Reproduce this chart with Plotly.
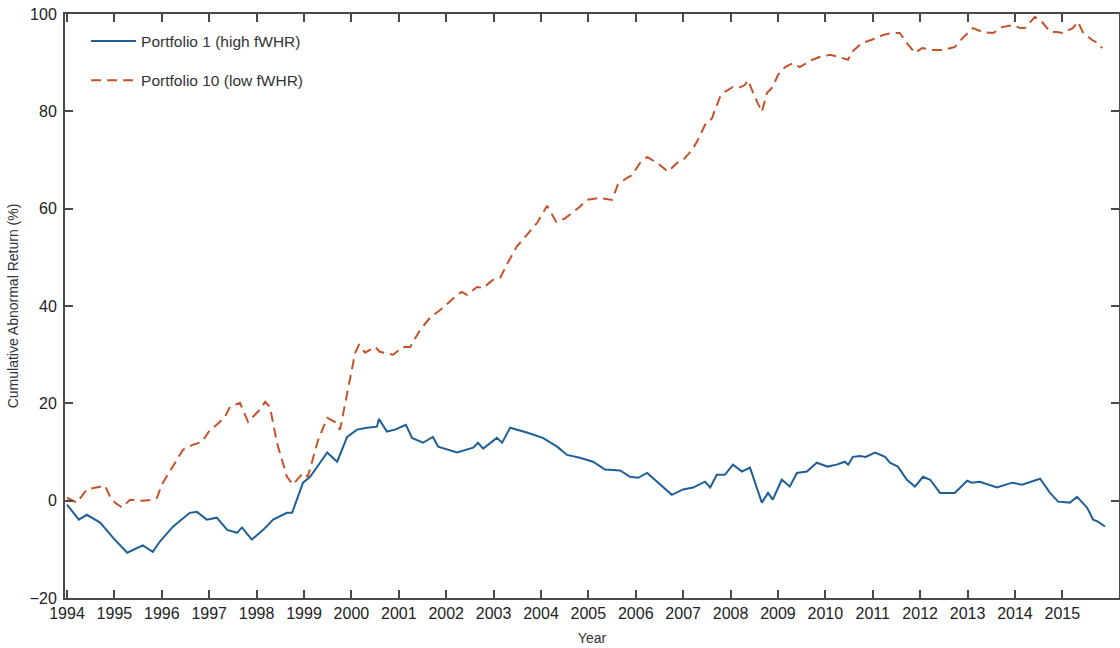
import plotly.graph_objects as go

# Portfolio 1 (high fWHR) - decimal year and cumulative abnormal return (%)
p1_year = [1994.00, 1994.25, 1994.42, 1994.70, 1994.97, 1995.27, 1995.60, 1995.81, 1995.96, 1996.24,
           1996.59, 1996.74, 1996.95, 1997.16, 1997.38, 1997.59, 1997.69, 1997.90, 1998.14, 1998.35,
           1998.64, 1998.75, 1998.85, 1998.98, 1999.13, 1999.49, 1999.70, 1999.91, 2000.12, 2000.33,
           2000.54, 2000.58, 2000.75, 2000.92, 2001.15, 2001.28, 2001.51, 2001.72, 2001.83, 2002.23,
           2002.57, 2002.67, 2002.78, 2003.07, 2003.18, 2003.35, 2003.70, 2004.04, 2004.34, 2004.55,
           2004.82, 2005.10, 2005.35, 2005.67, 2005.88, 2006.05, 2006.24, 2006.51, 2006.76, 2007.00,
           2007.21, 2007.46, 2007.57, 2007.71, 2007.88, 2008.05, 2008.24, 2008.41, 2008.66, 2008.79,
           2008.89, 2009.08, 2009.25, 2009.40, 2009.61, 2009.82, 2010.05, 2010.24, 2010.41, 2010.48,
           2010.58, 2010.73, 2010.85, 2011.05, 2011.26, 2011.36, 2011.53, 2011.72, 2011.89, 2012.06,
           2012.21, 2012.42, 2012.73, 2012.99, 2013.09, 2013.26, 2013.62, 2013.94, 2014.15, 2014.53,
           2014.74, 2014.91, 2015.16, 2015.31, 2015.52, 2015.65, 2015.75, 2015.90]
p1_value = [-0.8, -3.9, -2.9, -4.5, -7.6, -10.7, -9.2, -10.5, -8.4, -5.3,
            -2.5, -2.3, -3.9, -3.5, -6.0, -6.6, -5.5, -8.0, -6.0, -3.9,
            -2.5, -2.5, 0.2, 3.7, 4.9, 9.9, 8.0, 13.1, 14.6, 15.0,
            15.2, 16.8, 14.2, 14.6, 15.6, 12.9, 11.9, 13.1, 11.1, 9.9,
            10.9, 11.9, 10.7, 12.9, 11.9, 15.0, 14.0, 12.9, 11.1, 9.4,
            8.8, 8.0, 6.4, 6.2, 4.9, 4.7, 5.7, 3.3, 1.2, 2.3,
            2.7, 3.9, 2.7, 5.3, 5.3, 7.4, 6.0, 6.8, -0.4, 1.6,
            0.2, 4.3, 2.9, 5.7, 6.0, 7.8, 7.0, 7.4, 8.0, 7.4,
            9.0, 9.2, 9.0, 9.9, 9.0, 7.8, 7.0, 4.3, 2.9, 4.9,
            4.3, 1.6, 1.6, 4.1, 3.7, 3.9, 2.7, 3.7, 3.3, 4.5,
            1.6, -0.2, -0.4, 0.8, -1.4, -3.9, -4.3, -5.3]

# Portfolio 10 (low fWHR)
p10_year = [1994.00, 1994.21, 1994.42, 1994.63, 1994.80, 1994.91, 1995.01, 1995.16, 1995.33, 1995.60,
            1995.81, 1995.90, 1996.00, 1996.28, 1996.45, 1996.66, 1996.85, 1997.02, 1997.16, 1997.33,
            1997.44, 1997.65, 1997.82, 1998.07, 1998.18, 1998.28, 1998.43, 1998.64, 1998.77, 1998.98,
            1999.08, 1999.30, 1999.49, 1999.65, 1999.76, 1999.91, 2000.08, 2000.16, 2000.29, 2000.50,
            2000.60, 2000.88, 2001.09, 2001.24, 2001.45, 2001.66, 2001.93, 2002.23, 2002.33, 2002.44,
            2002.65, 2002.78, 2002.99, 2003.14, 2003.30, 2003.49, 2003.73, 2003.92, 2004.13, 2004.32,
            2004.51, 2004.82, 2004.97, 2005.24, 2005.50, 2005.62, 2005.81, 2005.92, 2006.09, 2006.24,
            2006.45, 2006.68, 2006.87, 2007.00, 2007.19, 2007.31, 2007.46, 2007.61, 2007.67, 2007.78,
            2007.88, 2008.05, 2008.16, 2008.30, 2008.37, 2008.51, 2008.66, 2008.77, 2008.89, 2009.00,
            2009.15, 2009.32, 2009.46, 2009.70, 2009.89, 2010.10, 2010.27, 2010.48, 2010.56, 2010.77,
            2010.98, 2011.22, 2011.41, 2011.57, 2011.72, 2011.89, 2012.04, 2012.27, 2012.46, 2012.73,
            2012.90, 2013.11, 2013.32, 2013.54, 2013.73, 2013.96, 2014.11, 2014.21, 2014.42, 2014.57,
            2014.74, 2014.89, 2015.01, 2015.22, 2015.33, 2015.43, 2015.62, 2015.75, 2015.84]
p10_value = [0.6, -0.4, 2.3, 2.7, 3.1, 0.8, -0.4, -1.4, 0.2, 0.0,
             0.2, 0.6, 3.3, 7.8, 10.5, 11.5, 12.1, 14.6, 15.6, 17.2,
             19.3, 20.1, 16.2, 18.7, 20.3, 19.3, 11.9, 4.9, 3.3, 5.7,
             4.9, 12.5, 17.0, 16.2, 14.6, 22.0, 30.4, 32.0, 30.4, 31.6,
             30.6, 30.0, 31.6, 31.6, 35.1, 37.6, 39.6, 42.3, 42.9, 42.3,
             43.9, 43.7, 45.4, 45.8, 48.9, 52.2, 55.0, 57.1, 60.6, 57.3,
             58.0, 60.4, 61.8, 62.2, 61.8, 64.9, 66.3, 66.9, 69.4, 70.6,
             69.4, 67.6, 69.4, 70.0, 72.1, 74.1, 77.2, 78.6, 80.3, 83.0,
             84.0, 85.0, 84.8, 85.4, 86.4, 83.0, 79.9, 83.8, 85.0, 87.5,
             89.1, 89.9, 89.1, 90.5, 91.2, 91.6, 91.2, 90.6, 92.2, 94.0,
             94.7, 95.7, 96.1, 96.1, 94.0, 92.0, 93.0, 92.6, 92.6, 93.2,
             95.1, 97.1, 96.3, 96.1, 97.3, 97.7, 97.1, 97.1, 99.4, 98.4,
             96.3, 96.3, 96.1, 97.1, 98.4, 96.3, 94.7, 94.0, 93.0]

year_ticks = list(range(1994, 2016))
year_labels = [str(y) for y in year_ticks]
y_ticks = [-20, 0, 20, 40, 60, 80, 100]

FONT = "Liberation Sans, Arial, Helvetica, sans-serif"
AXIS_COLOR = "#4a4a4a"

fig = go.Figure()
fig.add_trace(go.Scatter(
    x=p1_year, y=p1_value, mode="lines", name="Portfolio 1 (high fWHR)",
    legendgroup="a",
    line=dict(color="#1f5f98", width=2)))
fig.add_trace(go.Scatter(
    x=p10_year, y=p10_value, mode="lines", name="Portfolio 10 (low fWHR)",
    legendgroup="b",
    line=dict(color="#c4532b", width=2, dash="10px,6px")))

fig.update_layout(
    width=1120, height=648,
    margin=dict(l=65, r=1, t=14, b=50, autoexpand=False),
    paper_bgcolor="white", plot_bgcolor="white",
    font=dict(family=FONT, size=14, color="#222"),
    showlegend=True,
    legend=dict(x=0.02, y=0.982, xanchor="left", yanchor="top",
                bgcolor="rgba(0,0,0,0)", font=dict(size=15.5, color="#333"),
                tracegroupgap=16, itemwidth=45),
)
fig.update_xaxes(
    range=[1993.958, 2016.195], tickmode="array", tickvals=year_ticks, ticktext=year_labels,
    ticks="inside", ticklen=8, tickwidth=2, tickcolor=AXIS_COLOR,
    showline=True, linewidth=2, linecolor=AXIS_COLOR, mirror="ticks",
    showgrid=False, zeroline=False, automargin=False,
    tickfont=dict(size=16, color="#222"),
    title=dict(text="Year", font=dict(size=14, color="#333"), standoff=12),
)
fig.update_yaxes(
    range=[-20, 100], tickmode="array", tickvals=y_ticks,
    ticks="inside", ticklen=8, tickwidth=2, tickcolor=AXIS_COLOR,
    showline=True, linewidth=2, linecolor=AXIS_COLOR, mirror="ticks",
    showgrid=False, zeroline=False, automargin=False,
    ticklabelstandoff=3, ticklabeloverflow="allow",
    tickfont=dict(size=16, color="#222"),
    title=dict(text="Cumulative Abnormal Return (%)", font=dict(size=14, color="#333"), standoff=8),
)

# remove the default 8px page margin so the figure fills the window exactly
fig.write_html("out.html",
               config={"displayModeBar": False},
               post_script="document.body.style.margin='0';document.body.style.overflow='hidden';")
